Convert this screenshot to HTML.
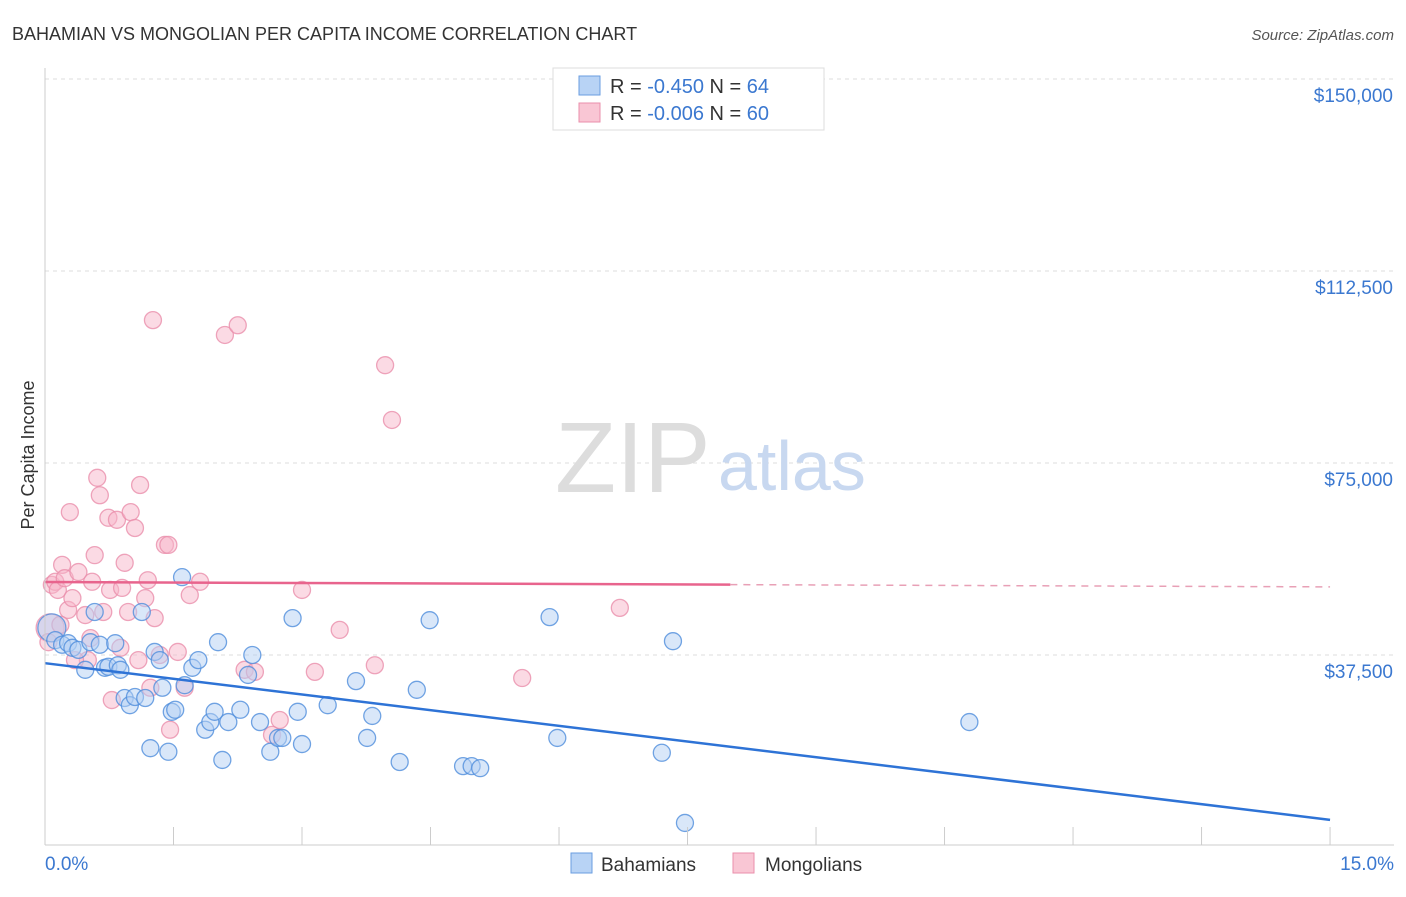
<!DOCTYPE html>
<html><head><meta charset="utf-8"><style>
body{margin:0;background:#fff;font-family:"Liberation Sans",sans-serif}
svg text{font-family:"Liberation Sans",sans-serif}
</style></head><body>
<svg id="chart" width="1406" height="892" xmlns="http://www.w3.org/2000/svg">
<text x="12" y="40" font-size="18" fill="#333">BAHAMIAN VS MONGOLIAN PER CAPITA INCOME CORRELATION CHART</text>
<text x="1394" y="40" font-size="15" fill="#555" font-style="italic" text-anchor="end">Source: ZipAtlas.com</text>
<g id="grid"></g>
<g><text x="555" y="492" font-size="100" fill="#ddd" font-family="Liberation Serif">ZIP</text><text x="718" y="490" font-size="70" fill="#c8d8f0">atlas</text></g>
<g id="pts"></g>
<g id="trend"></g>
<g id="axes"></g>
<text transform="translate(34,455) rotate(-90)" font-size="18" fill="#333" text-anchor="middle">Per Capita Income</text>
<g>
<rect x="553" y="68" width="271" height="62" fill="#fff" stroke="#ddd"/>
<rect x="579" y="76" width="21" height="19" fill="#b8d3f5" stroke="#6a9ee0"/>
<rect x="579" y="103" width="21" height="19" fill="#f9c6d4" stroke="#ea8fab"/>
<text x="610" y="93" font-size="20" fill="#333">R = <tspan fill="#3b78d0">-0.450</tspan>   N = <tspan fill="#3b78d0">64</tspan></text>
<text x="610" y="120" font-size="20" fill="#333">R = <tspan fill="#3b78d0">-0.006</tspan>   N = <tspan fill="#3b78d0">60</tspan></text>
</g>
<g>
<rect x="571" y="853" width="21" height="20" fill="#b8d3f5" stroke="#6a9ee0"/>
<text x="601" y="871" font-size="19" fill="#333">Bahamians</text>
<rect x="733" y="853" width="21" height="20" fill="#f9c6d4" stroke="#ea8fab"/>
<text x="765" y="871" font-size="19" fill="#333">Mongolians</text>
</g>
</svg>
<script>
const blueX=[.08,.12,.20,.27,.32,.39,.47,.53,.58,.64,.70,.74,.82,.85,.88,.93,.99,1.05,1.13,1.17,1.23,1.28,1.34,1.37,1.44,1.48,1.52,1.60,1.63,1.72,1.79,1.87,1.93,1.98,2.02,2.07,2.14,2.28,2.37,2.42,2.51,2.63,2.72,2.77,2.89,2.95,3.00,3.30,3.63,3.76,3.82,4.14,4.34,4.49,4.88,4.98,5.08,5.89,5.98,7.20,7.33,7.47,10.79];
const blueY=[42.8,40.4,39.5,39.8,38.9,38.5,34.6,40.0,45.9,39.5,35.0,35.2,39.8,35.5,34.6,29.1,27.7,29.3,45.9,29.1,19.3,38.1,36.5,31.1,18.6,26.4,26.8,52.7,31.6,35.0,36.5,22.9,24.4,26.4,40.0,17.0,24.4,26.8,33.6,37.5,24.4,18.6,21.3,21.3,44.7,26.4,20.1,27.7,32.4,21.3,25.6,16.6,30.7,44.3,15.8,15.8,15.4,44.9,21.3,18.4,40.2,4.7,24.4];
const pinkX=[.06,.08,.12,.15,.20,.23,.27,.29,.32,.39,.47,.50,.55,.58,.64,.61,.68,.74,.76,.78,.84,.88,.90,.93,.97,1.00,1.05,1.09,1.11,1.17,1.20,1.23,1.26,1.28,1.40,1.44,1.46,1.55,1.63,1.69,1.81,2.10,2.25,2.33,2.45,2.65,2.74,3.00,3.15,3.44,3.85,3.97,4.05,5.57,6.71,.04,1.34,.53,.35,.18];
const pinkY=[42.8,51.2,51.8,50.2,55.1,52.5,46.3,65.4,48.6,53.7,45.3,36.5,51.8,57.0,68.7,72.1,45.9,64.3,50.2,28.7,63.9,38.9,50.6,55.5,45.9,65.4,62.3,36.5,70.7,48.6,52.1,31.1,102.9,44.7,59.0,59.0,22.9,38.1,31.1,49.2,51.8,100.0,101.9,34.6,34.2,21.9,24.8,50.2,34.2,42.4,35.5,94.1,83.4,33.0,46.7,40.0,37.5,40.8,36.5,43.4];
const blueTrend=[35.9,5.3];
const pinkTrend=[51.75,50.8];
const yTicks=[37.5,75,112.5,150];
const yTickLabels=["$37,500","$75,000","$112,500","$150,000"];
const xTicks=[0,1.5,3,4.5,6,7.5,9,10.5,12,13.5,15];
const NS="http://www.w3.org/2000/svg";
const sx=v=>45+v*85.67, sy=v=>847-v/0.1953;
function mk(t,a,p){const e=document.createElementNS(NS,t);for(const k in a)e.setAttribute(k,a[k]);p.appendChild(e);return e;}
const grid=document.getElementById('grid'),axes=document.getElementById('axes'),pts=document.getElementById('pts'),tr=document.getElementById('trend');
yTicks.forEach((v,i)=>{
 const l=mk('line',{x1:45,x2:1394,y1:sy(v),y2:sy(v),stroke:'#ddd','stroke-dasharray':'4,4'},grid);
 
 
 const t=mk('text',{x:1393,y:sy(v)+23,'font-size':19,fill:'#3b78d0','text-anchor':'end'},axes);
 t.textContent=yTickLabels[i];
 
 
});
const ax=mk('line',{x1:45,x2:1394,y1:845,y2:845,stroke:'#ccc'},axes);


const ay=mk('line',{x1:45,x2:45,y1:68,y2:845,stroke:'#ccc'},axes);


xTicks.forEach(v=>{const l=mk('line',{x1:sx(v),x2:sx(v),y1:827,y2:845,stroke:'#ccc'},axes);
 
 });
const t0=mk('text',{x:45,y:870,'font-size':19,fill:'#3b78d0'},axes);t0.textContent='0.0%';


const t1=mk('text',{x:1394,y:870,'font-size':19,fill:'#3b78d0','text-anchor':'end'},axes);t1.textContent='15.0%';


function dots(X,Y,fill,stroke,name){X.forEach((x,i)=>{const r=i===0?14:8.5;
 const c=mk('circle',{cx:sx(x),cy:sy(Y[i]),r:r,fill:fill,'fill-opacity':0.5,stroke:stroke,'stroke-width':1.3,'stroke-opacity':0.8},pts);
 
 });}
dots(pinkX,pinkY,'#f7b6c9','#ea8fab','mongolian-point');
dots(blueX,blueY,'#b3cff3','#4f8ddc','bahamian-point');
const bl=mk('line',{x1:sx(0),y1:sy(blueTrend[0]),x2:sx(15),y2:sy(blueTrend[1]),stroke:'#2e73d6','stroke-width':2.5},tr);


const pm=pinkTrend[0]+(pinkTrend[1]-pinkTrend[0])*(8/15);
const pl=mk('line',{x1:sx(0),y1:sy(pinkTrend[0]),x2:sx(8),y2:sy(pm),stroke:'#e8648d','stroke-width':2.5},tr);


const pd=mk('line',{x1:sx(8),y1:sy(pm),x2:sx(15),y2:sy(pinkTrend[1]),stroke:'#e8a0b6','stroke-width':1.5,'stroke-dasharray':'7,6'},tr);


</script>
</body></html>
